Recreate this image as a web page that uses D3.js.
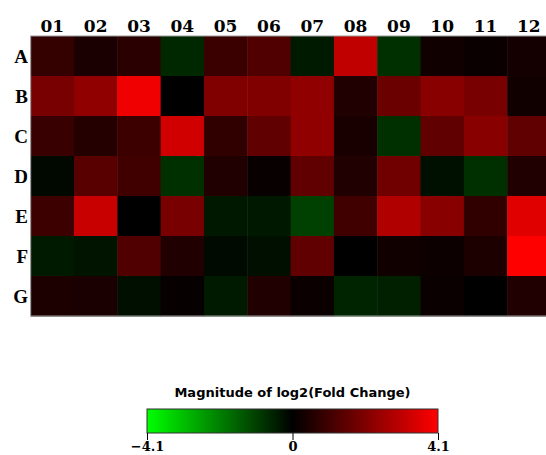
<!DOCTYPE html>
<html>
<head>
<meta charset="utf-8">
<script src="https://cdn.jsdelivr.net/npm/d3@7"></script>
<style>
  body { margin: 0; background: #fff; }
  svg { display: block; }
</style>
</head>
<body>
<div id="heatmap"></div>
<script>
const columns = ["01", "02", "03", "04", "05", "06", "07", "08", "09", "10", "11", "12"];
const rows = ["A", "B", "C", "D", "E", "F", "G"];

// log2 fold change per well, row by row
const rowA = [0.85, 0.42, 0.68, -0.64, 0.94, 1.29, -0.42, 3.09, -0.77, 0.26, 0.16, 0.32];
const rowB = [1.93, 2.32, 3.86, 0.0, 2.06, 2.06, 2.32, 0.51, 1.7, 2.19, 1.93, 0.26];
const rowC = [0.9, 0.58, 0.96, 3.34, 0.77, 1.54, 2.32, 0.39, -0.77, 1.54, 2.19, 1.54];
const rowD = [-0.13, 1.41, 1.03, -0.77, 0.51, 0.13, 1.54, 0.51, 1.8, -0.26, -0.77, 0.51];
const rowE = [0.96, 3.21, 0.0, 1.93, -0.39, -0.39, -1.03, 1.03, 2.83, 2.19, 0.77, 3.6];
const rowF = [-0.42, -0.32, 1.29, 0.51, -0.16, -0.24, 1.54, 0.0, 0.26, 0.19, 0.45, 4.1];
const rowG = [0.45, 0.42, -0.24, 0.1, -0.42, 0.51, 0.16, -0.58, -0.51, 0.16, 0.0, 0.51];
const values = [rowA, rowB, rowC, rowD, rowE, rowF, rowG];

const legendTicks = [-4.1, 0, 4.1];
const legendTitle = "Magnitude of log2(Fold Change)";

const width = 546, height = 455;

const svg = d3.select("#heatmap").append("svg")
    .attr("width", width)
    .attr("height", height);

const x = d3.scaleBand().domain(columns).range([30.7, 550.5]);
const y = d3.scaleBand().domain(rows).range([36, 316]);

const color = d3.scaleLinear()
    .domain([-4.1, 0, 4.1])
    .range(["#00ff00", "#000000", "#ff0000"])
    .clamp(true);

const cells = [];
values.forEach((r, i) => r.forEach((v, j) => cells.push({ row: rows[i], col: columns[j], value: v })));

svg.append("g").selectAll("rect")
    .data(cells)
    .join("rect")
    .attr("x", d => x(d.col))
    .attr("y", d => y(d.row))
    .attr("width", x.bandwidth() + 0.5)
    .attr("height", y.bandwidth() + 0.5)
    .attr("fill", d => color(d.value));

svg.append("rect")
    .attr("x", x.range()[0])
    .attr("y", y.range()[0])
    .attr("width", x.range()[1] - x.range()[0])
    .attr("height", y.range()[1] - y.range()[0])
    .attr("fill", "none")
    .attr("stroke", "#9a9a9a")
    .attr("stroke-width", 1);

svg.append("g").selectAll("text")
    .data(columns)
    .join("text")
    .attr("x", d => x(d) + x.bandwidth() / 2)
    .attr("y", 32)
    .attr("text-anchor", "middle")
    .style("font-family", "'DejaVu Serif', serif")
    .style("font-size", "17px")
    .style("font-weight", "600")
    .text(d => d);

svg.append("g").selectAll("text")
    .data(rows)
    .join("text")
    .attr("x", 28)
    .attr("y", d => y(d) + y.bandwidth() / 2)
    .attr("dy", "0.36em")
    .attr("text-anchor", "end")
    .style("font-family", "'Liberation Serif', serif")
    .style("font-size", "19px")
    .style("font-weight", "bold")
    .text(d => d);

// colour legend
const legendX = d3.scaleLinear().domain([-4.1, 4.1]).range([147, 438]);
const legendY = 409, legendH = 24;

const grad = svg.append("defs").append("linearGradient")
    .attr("id", "legendGrad")
    .attr("x1", "0%").attr("x2", "100%");
grad.selectAll("stop")
    .data(legendTicks)
    .join("stop")
    .attr("offset", d => (legendX(d) - legendX.range()[0]) / (legendX.range()[1] - legendX.range()[0]))
    .attr("stop-color", d => color(d));

svg.append("rect")
    .attr("x", legendX.range()[0])
    .attr("y", legendY)
    .attr("width", legendX.range()[1] - legendX.range()[0])
    .attr("height", legendH)
    .attr("fill", "url(#legendGrad)")
    .attr("stroke", "#333")
    .attr("stroke-width", 1);

svg.append("text")
    .attr("x", (legendX.range()[0] + legendX.range()[1]) / 2)
    .attr("y", 397)
    .attr("text-anchor", "middle")
    .style("font-family", "'DejaVu Sans', sans-serif")
    .style("font-size", "13px")
    .style("font-weight", "bold")
    .text(legendTitle);

const legendAxis = svg.append("g")
    .attr("transform", `translate(0,${legendY + legendH})`)
    .call(d3.axisBottom(legendX).tickValues(legendTicks).tickSize(7).tickFormat(d => d === 0 ? "0" : d3.format(".1f")(d)));
legendAxis.select(".domain").remove();
legendAxis.selectAll(".tick line").attr("stroke", "#000");
legendAxis.selectAll(".tick text")
    .attr("y", 9)
    .style("font-family", "'DejaVu Serif', serif")
    .style("font-size", "13px")
    .style("font-weight", "bold")
    .attr("fill", "#000");
</script>
</body>
</html>
